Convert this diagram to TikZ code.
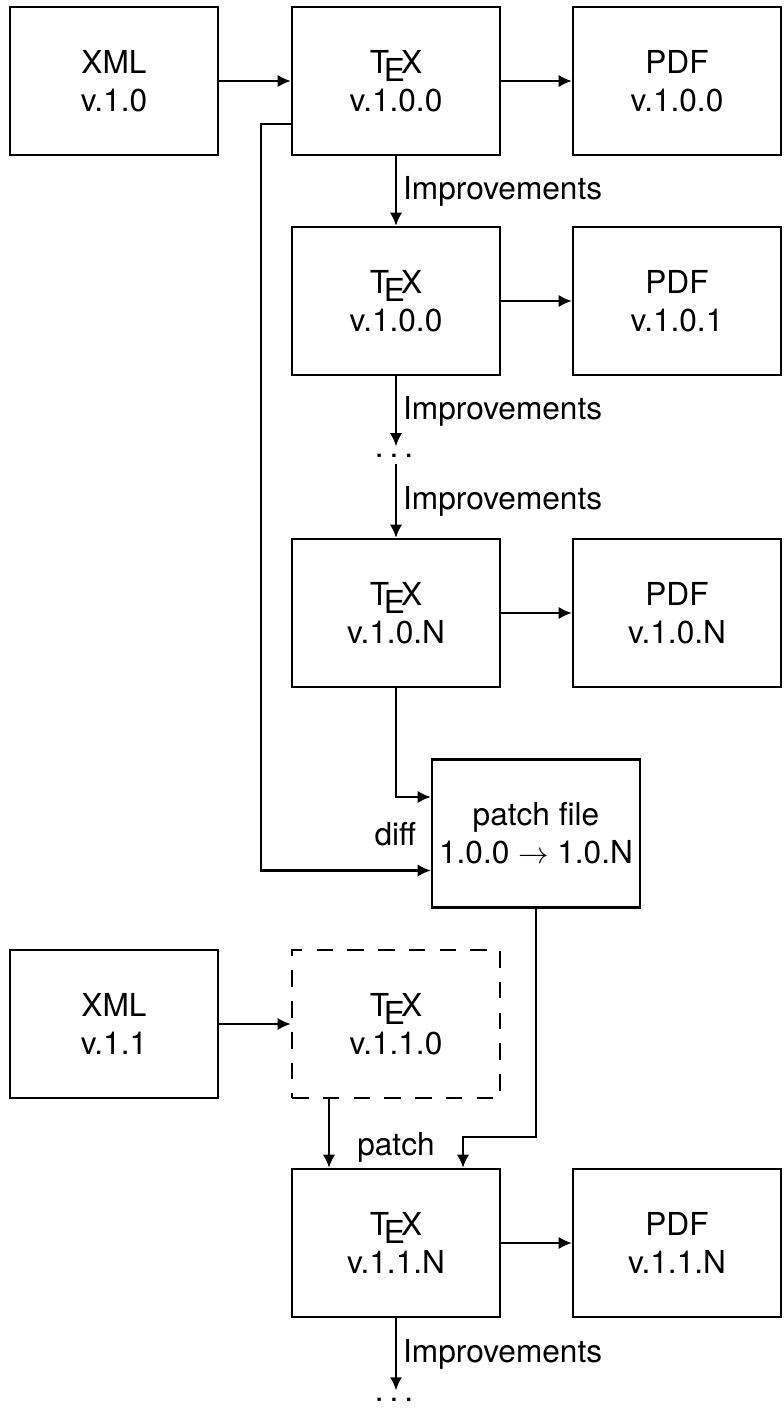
\documentclass[tikz,border=0pt]{standalone}
\usepackage{fontspec}
\setmainfont{TeX Gyre Heros}
\usetikzlibrary{arrows.meta}
\newcommand{\gapdots}{.\kern0.19em.\kern0.19em.}

\begin{document}
\begin{tikzpicture}[>={Latex[length=7.5pt,width=7pt]}, line width=1.3pt,
    every node/.style={font=\fontsize{18}{21.6}\selectfont},
    stage/.style={draw, minimum width=4.16cm, minimum height=2.96cm, align=center},
    draft/.style={stage, dashed, dash pattern=on 9.5pt off 8pt},
    gap/.style={inner sep=3.5pt}]
    \useasboundingbox (0,0) rectangle (15.68,-28.16);
    \node [stage] (xml1) at (2.28,-1.62) {XML\\v.1.0};
    \node [stage] (tex1) at (7.92,-1.62) {\TeX\\v.1.0.0};
    \node [stage] (pdf1) at (13.54,-1.62) {PDF\\v.1.0.0};
    \node [stage] (tex2) at (7.92,-6.02) {\TeX\\v.1.0.0};
    \node [stage] (pdf2) at (13.54,-6.02) {PDF\\v.1.0.1};
    \node [gap, anchor=base] (dots1) at (7.88,-9.14) {\gapdots};
    \node [stage] (tex3) at (7.92,-12.26) {\TeX\\v.1.0.N};
    \node [stage] (pdf3) at (13.54,-12.26) {PDF\\v.1.0.N};
    \node [stage] (patch) at (10.72,-16.67) {patch file\\1.0.0 $\rightarrow$ 1.0.N};
    \node [stage] (xml2) at (2.28,-20.48) {XML\\v.1.1};
    \node [draft] (tex4) at (7.92,-20.48) {\TeX\\v.1.1.0};
    \node [stage] (tex5) at (7.92,-24.86) {\TeX\\v.1.1.N};
    \node [stage] (pdf5) at (13.54,-24.86) {PDF\\v.1.1.N};
    \node [gap, anchor=base] (dots2) at (7.88,-28.02) {\gapdots};
    \node [anchor=base east] (difflbl) at (8.46,-16.9) {diff};
    \node [anchor=base] (patchlbl) at (7.92,-23.1) {patch};

    \draw [->] (xml1) -- (tex1);
    \draw [->] (tex1) -- (pdf1);
    \draw [->] (tex1) -- node [right] (imp1) {Improvements} (tex2);
    \draw [->] (tex2) -- (pdf2);
    \draw [->] (tex2) -- node [right] (imp2) {Improvements} (tex2 |- dots1.north);
    \draw [->] (tex3 |- dots1.south) -- node [right] (imp3) {Improvements} (tex3);
    \draw [->] (tex3) -- (pdf3);
    \draw [->] (tex3.south) |- ([yshift=0.73cm]patch.west);
    \draw [->] ([yshift=-0.86cm]tex1.west) -- ++(-0.6,0) |- ([yshift=-0.74cm]patch.west);
    \draw [->] (xml2) -- (tex4);
    \draw [->] ([xshift=-1.34cm]tex4.south) -- ([xshift=-1.34cm]tex5.north);
    \draw [->] (patch.south) -- ++(0,-4.56) -| ([xshift=1.34cm]tex5.north);
    \draw [->] (tex5) -- (pdf5);
    \draw [->] (tex5) -- node [right] (imp4) {Improvements} (tex5 |- dots2.north);
\end{tikzpicture}
\end{document}
